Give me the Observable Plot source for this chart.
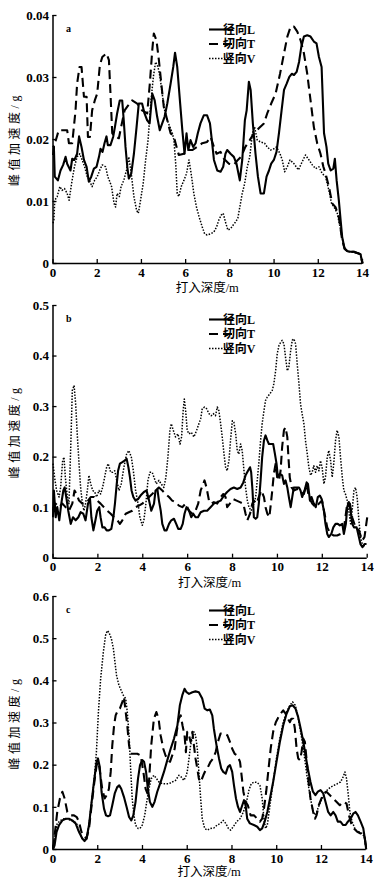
<!DOCTYPE html>
<html><head><meta charset="utf-8">
<script src="https://cdn.jsdelivr.net/npm/d3@7"></script>
<script src="https://cdn.jsdelivr.net/npm/@observablehq/plot@0.6"></script>
<style>
html,body{margin:0;padding:0;background:#fff;}
#wrap{position:relative;width:381px;height:884px;overflow:hidden;background:#fff;}
#wrap svg{position:absolute;left:0;}
#wrap svg text{font-family:"Liberation Serif","Noto Sans CJK SC",serif;}
</style></head><body><div id="wrap"></div>
<script>
// ---- labels / ticks ----
const seriesNames = ["径向L", "切向T", "竖向V"];
const xLabel = "打入深度/m";
const yLabel = "峰值加速度/g";
const panelLetters = ["a", "b", "c"];
const depthTicks = [0, 2, 4, 6, 8, 10, 12, 14];
const yTicksA = [0, 0.01, 0.02, 0.03, 0.04];
const yTicksB = [0, 0.1, 0.2, 0.3, 0.4, 0.5];
const yTicksC = [0, 0.1, 0.2, 0.3, 0.4, 0.5, 0.6];

// ---- panel a: [depth m, peak acceleration g] ----
const aRadial = [[0,0.019],[0.04,0.0188],[0.08,0.014],[0.22,0.0134],[0.34,0.015],[0.46,0.0159],[0.57,0.0172],[0.64,0.0161],[0.79,0.015],[0.87,0.0169],[0.97,0.0167],[1.09,0.0177],[1.18,0.0205],[1.29,0.0188],[1.4,0.0167],[1.52,0.0156],[1.62,0.0132],[1.73,0.014],[1.85,0.0153],[1.97,0.0156],[2.08,0.0172],[2.15,0.0185],[2.24,0.018],[2.33,0.0194],[2.42,0.0205],[2.48,0.0191],[2.6,0.0191],[2.72,0.0204],[2.8,0.022],[2.9,0.0242],[3.02,0.0263],[3.13,0.0263],[3.2,0.0231],[3.28,0.0188],[3.36,0.0156],[3.43,0.0137],[3.54,0.0145],[3.66,0.0177],[3.78,0.022],[3.88,0.0258],[4.03,0.0258],[4.14,0.0242],[4.26,0.0231],[4.37,0.0226],[4.49,0.0274],[4.6,0.0263],[4.71,0.0237],[4.83,0.0215],[4.94,0.0226],[5.05,0.0237],[5.17,0.0258],[5.32,0.029],[5.44,0.0317],[5.52,0.034],[5.62,0.0317],[5.74,0.0263],[5.85,0.0215],[5.95,0.0177],[6.04,0.021],[6.12,0.0183],[6.22,0.0199],[6.34,0.0188],[6.45,0.0194],[6.55,0.021],[6.67,0.0226],[6.82,0.0239],[6.97,0.0239],[7.1,0.0226],[7.2,0.0194],[7.28,0.0167],[7.43,0.015],[7.58,0.0148],[7.7,0.0156],[7.8,0.0177],[7.88,0.0183],[8.03,0.0177],[8.18,0.0172],[8.3,0.0161],[8.45,0.0134],[8.56,0.0167],[8.68,0.0231],[8.76,0.0247],[8.86,0.0293],[8.94,0.028],[9.04,0.0226],[9.16,0.0177],[9.27,0.014],[9.39,0.0113],[9.54,0.0113],[9.66,0.014],[9.77,0.015],[9.87,0.0161],[9.99,0.0167],[10.11,0.018],[10.22,0.021],[10.34,0.0247],[10.45,0.028],[10.57,0.029],[10.69,0.0301],[10.8,0.0306],[10.9,0.0304],[11.02,0.0309],[11.13,0.0325],[11.23,0.0349],[11.35,0.0366],[11.5,0.0368],[11.65,0.0366],[11.8,0.0358],[11.92,0.0355],[12.03,0.0333],[12.15,0.0317],[12.26,0.021],[12.37,0.0188],[12.45,0.0161],[12.56,0.015],[12.68,0.0153],[12.75,0.0169],[12.83,0.0134],[12.93,0.0102],[13.01,0.007],[13.08,0.0043],[13.19,0.0024],[13.31,0.002],[13.46,0.0019],[13.61,0.0019],[13.76,0.0017],[13.91,0.0015],[14,0]];
const aTangential = [[0,0.0175],[0.04,0.0188],[0.26,0.0215],[0.64,0.0215],[0.72,0.0194],[0.87,0.0194],[1.02,0.0247],[1.09,0.029],[1.2,0.0317],[1.29,0.0317],[1.4,0.0269],[1.52,0.0269],[1.58,0.0204],[1.67,0.0204],[1.77,0.0247],[1.89,0.0263],[2.0,0.0274],[2.12,0.032],[2.23,0.0333],[2.42,0.0339],[2.53,0.0328],[2.6,0.0274],[2.68,0.021],[2.83,0.0204],[2.98,0.0202],[3.08,0.022],[3.24,0.0247],[3.36,0.0253],[3.58,0.0263],[3.81,0.0258],[4.03,0.0247],[4.26,0.0242],[4.38,0.029],[4.49,0.0344],[4.56,0.0371],[4.68,0.036],[4.79,0.0328],[4.9,0.029],[5.01,0.0253],[5.17,0.0231],[5.32,0.021],[5.47,0.0204],[5.59,0.0188],[5.69,0.0175],[5.92,0.0177],[6.07,0.0183],[6.3,0.0183],[6.52,0.0188],[6.75,0.0194],[6.97,0.0196],[7.13,0.0204],[7.28,0.0188],[7.4,0.0177],[7.58,0.018],[7.73,0.0169],[7.96,0.0161],[8.18,0.0159],[8.36,0.0167],[8.51,0.0172],[8.7,0.0188],[8.9,0.0199],[9.09,0.021],[9.31,0.0218],[9.54,0.0226],[9.69,0.0242],[9.87,0.0258],[10.07,0.0274],[10.27,0.0306],[10.45,0.0339],[10.6,0.0366],[10.75,0.0382],[10.9,0.0382],[11.05,0.0374],[11.2,0.036],[11.35,0.0339],[11.5,0.0306],[11.65,0.0263],[11.8,0.022],[11.95,0.0194],[12.1,0.0177],[12.23,0.0156],[12.33,0.0145],[12.48,0.0124],[12.63,0.0097],[12.78,0.0091],[12.93,0.0075],[13.08,0.0038],[13.19,0.0024],[13.31,0.002],[13.46,0.0019],[13.61,0.0019],[13.76,0.0017],[13.91,0.0015],[14,0]];
const aVertical = [[0,0.0065],[0.04,0.007],[0.08,0.0102],[0.19,0.0108],[0.31,0.0124],[0.41,0.0118],[0.52,0.0121],[0.64,0.0113],[0.73,0.0102],[0.84,0.0129],[0.97,0.0156],[1.09,0.0172],[1.21,0.0177],[1.32,0.0167],[1.43,0.0156],[1.55,0.014],[1.67,0.0132],[1.77,0.0124],[1.88,0.0134],[2.0,0.014],[2.12,0.0151],[2.23,0.0159],[2.38,0.0156],[2.48,0.014],[2.57,0.0132],[2.65,0.0124],[2.76,0.0097],[2.83,0.0091],[2.9,0.0113],[3.0,0.0108],[3.08,0.0124],[3.2,0.0134],[3.33,0.0151],[3.43,0.0172],[3.54,0.0145],[3.66,0.0108],[3.78,0.0086],[3.86,0.0081],[3.96,0.0102],[4.08,0.0129],[4.19,0.0167],[4.3,0.0199],[4.42,0.0258],[4.54,0.0301],[4.64,0.0325],[4.75,0.0317],[4.84,0.0301],[4.94,0.0274],[5.05,0.0247],[5.17,0.0231],[5.29,0.022],[5.4,0.021],[5.47,0.0199],[5.55,0.0161],[5.62,0.0113],[5.69,0.0108],[5.8,0.0124],[5.92,0.0134],[6.04,0.0145],[6.15,0.0167],[6.25,0.0145],[6.37,0.0113],[6.49,0.0091],[6.61,0.0075],[6.75,0.0059],[6.86,0.0048],[6.97,0.0046],[7.13,0.0048],[7.28,0.0051],[7.4,0.0059],[7.5,0.007],[7.61,0.0078],[7.7,0.0081],[7.8,0.0067],[7.91,0.0054],[8.03,0.0056],[8.15,0.0062],[8.26,0.0067],[8.36,0.0073],[8.45,0.0091],[8.56,0.0113],[8.67,0.0129],[8.79,0.0156],[8.9,0.0172],[9.02,0.021],[9.12,0.022],[9.24,0.0199],[9.39,0.0196],[9.57,0.0194],[9.69,0.0188],[9.84,0.0183],[9.99,0.0185],[10.11,0.0188],[10.27,0.0177],[10.37,0.0167],[10.48,0.0148],[10.6,0.0156],[10.72,0.0167],[10.9,0.0161],[11.1,0.0151],[11.27,0.0164],[11.42,0.0175],[11.58,0.0167],[11.73,0.0159],[11.88,0.0153],[12.03,0.0156],[12.18,0.0145],[12.33,0.014],[12.48,0.0118],[12.6,0.0097],[12.71,0.0091],[12.86,0.0081],[13.01,0.0054],[13.16,0.0027],[13.31,0.0019],[13.46,0.0019],[13.61,0.0018],[13.76,0.0017],[13.91,0.0015],[14,0]];

// ---- panel b ----
const bRadial = [[0,0.081],[0.04,0.134],[0.12,0.081],[0.19,0.101],[0.28,0.075],[0.37,0.108],[0.46,0.134],[0.52,0.14],[0.59,0.121],[0.68,0.094],[0.79,0.068],[0.89,0.081],[1.01,0.075],[1.13,0.081],[1.23,0.091],[1.35,0.088],[1.45,0.075],[1.56,0.108],[1.65,0.117],[1.71,0.081],[1.8,0.055],[1.89,0.075],[1.97,0.094],[2.06,0.101],[2.12,0.081],[2.2,0.061],[2.3,0.061],[2.39,0.055],[2.49,0.055],[2.6,0.058],[2.69,0.081],[2.76,0.108],[2.84,0.147],[2.9,0.173],[2.98,0.187],[3.09,0.19],[3.19,0.193],[3.28,0.197],[3.36,0.18],[3.43,0.16],[3.5,0.134],[3.58,0.121],[3.68,0.114],[3.79,0.117],[3.9,0.124],[4.05,0.131],[4.17,0.134],[4.28,0.114],[4.38,0.094],[4.5,0.108],[4.57,0.134],[4.65,0.137],[4.72,0.114],[4.8,0.094],[4.87,0.068],[4.97,0.055],[5.06,0.055],[5.17,0.068],[5.27,0.075],[5.39,0.078],[5.49,0.068],[5.58,0.058],[5.69,0.058],[5.78,0.068],[5.86,0.088],[5.95,0.101],[6.06,0.094],[6.16,0.081],[6.25,0.088],[6.35,0.081],[6.46,0.081],[6.58,0.091],[6.73,0.094],[6.87,0.094],[7.02,0.101],[7.17,0.108],[7.32,0.111],[7.47,0.114],[7.62,0.124],[7.76,0.131],[7.91,0.137],[8.06,0.14],[8.21,0.137],[8.36,0.14],[8.48,0.15],[8.58,0.164],[8.69,0.173],[8.78,0.18],[8.83,0.17],[8.89,0.134],[8.95,0.081],[9.03,0.078],[9.1,0.081],[9.17,0.108],[9.25,0.154],[9.32,0.2],[9.4,0.233],[9.47,0.243],[9.55,0.233],[9.62,0.226],[9.72,0.226],[9.81,0.226],[9.89,0.206],[9.96,0.187],[10.02,0.16],[10.11,0.167],[10.21,0.164],[10.29,0.147],[10.36,0.154],[10.44,0.14],[10.51,0.121],[10.59,0.101],[10.66,0.121],[10.73,0.14],[10.85,0.14],[10.96,0.14],[11.03,0.134],[11.1,0.121],[11.21,0.134],[11.3,0.15],[11.36,0.147],[11.45,0.114],[11.52,0.121],[11.62,0.108],[11.71,0.101],[11.8,0.121],[11.89,0.124],[11.97,0.117],[12.07,0.094],[12.14,0.068],[12.22,0.048],[12.29,0.042],[12.4,0.048],[12.49,0.061],[12.59,0.068],[12.69,0.068],[12.78,0.065],[12.89,0.068],[12.96,0.048],[13.05,0.068],[13.11,0.101],[13.18,0.111],[13.26,0.094],[13.33,0.068],[13.41,0.061],[13.53,0.061],[13.63,0.042],[13.7,0.028],[13.79,0.022],[13.88,0.028],[13.97,0.028]];
const bTangential = [[0,0.094],[0.12,0.108],[0.27,0.101],[0.42,0.108],[0.56,0.101],[0.71,0.094],[0.86,0.108],[0.96,0.134],[1.05,0.127],[1.16,0.114],[1.31,0.108],[1.45,0.108],[1.56,0.114],[1.68,0.121],[1.83,0.121],[1.97,0.114],[2.12,0.108],[2.27,0.101],[2.42,0.094],[2.57,0.088],[2.72,0.081],[2.87,0.075],[2.98,0.068],[3.09,0.075],[3.24,0.088],[3.38,0.091],[3.53,0.094],[3.68,0.101],[3.83,0.104],[3.98,0.108],[4.13,0.114],[4.28,0.121],[4.42,0.127],[4.57,0.134],[4.72,0.14],[4.87,0.134],[5.02,0.127],[5.17,0.121],[5.31,0.114],[5.46,0.111],[5.61,0.104],[5.76,0.101],[5.91,0.108],[6.06,0.094],[6.21,0.088],[6.35,0.094],[6.47,0.108],[6.58,0.134],[6.67,0.144],[6.75,0.154],[6.84,0.14],[6.95,0.114],[7.05,0.108],[7.17,0.111],[7.32,0.108],[7.47,0.121],[7.59,0.127],[7.69,0.121],[7.76,0.101],[7.88,0.108],[8.03,0.117],[8.18,0.114],[8.33,0.111],[8.48,0.108],[8.58,0.088],[8.66,0.075],[8.78,0.088],[8.88,0.108],[8.95,0.114],[9.07,0.108],[9.17,0.121],[9.28,0.134],[9.4,0.121],[9.47,0.101],[9.55,0.088],[9.64,0.081],[9.69,0.101],[9.77,0.134],[9.84,0.167],[9.92,0.187],[9.99,0.16],[10.07,0.154],[10.14,0.173],[10.21,0.22],[10.29,0.253],[10.36,0.259],[10.44,0.24],[10.49,0.2],[10.55,0.16],[10.63,0.14],[10.73,0.134],[10.88,0.137],[11.03,0.134],[11.18,0.127],[11.3,0.147],[11.4,0.121],[11.55,0.108],[11.7,0.101],[11.85,0.108],[11.99,0.114],[12.1,0.088],[12.22,0.061],[12.37,0.048],[12.51,0.045],[12.66,0.045],[12.81,0.048],[12.96,0.058],[13.11,0.108],[13.23,0.108],[13.33,0.081],[13.48,0.061],[13.63,0.055],[13.78,0.035],[13.88,0.042],[14,0.081]];
const bVertical = [[0,0.187],[0.07,0.16],[0.16,0.134],[0.27,0.121],[0.34,0.14],[0.43,0.193],[0.49,0.2],[0.55,0.16],[0.64,0.121],[0.71,0.108],[0.79,0.22],[0.86,0.332],[0.94,0.342],[1.01,0.305],[1.08,0.246],[1.16,0.187],[1.23,0.14],[1.31,0.108],[1.38,0.094],[1.45,0.108],[1.53,0.134],[1.6,0.164],[1.68,0.147],[1.77,0.134],[1.86,0.131],[1.94,0.121],[2.05,0.134],[2.12,0.127],[2.21,0.14],[2.3,0.16],[2.39,0.18],[2.46,0.187],[2.57,0.17],[2.66,0.17],[2.75,0.173],[2.84,0.154],[2.94,0.134],[3.04,0.147],[3.16,0.18],[3.28,0.206],[3.38,0.213],[3.49,0.2],[3.58,0.173],[3.68,0.134],[3.79,0.108],[3.87,0.081],[3.98,0.065],[4.05,0.075],[4.14,0.108],[4.23,0.154],[4.32,0.17],[4.42,0.17],[4.5,0.16],[4.6,0.147],[4.72,0.154],[4.82,0.147],[4.94,0.14],[5.03,0.16],[5.12,0.2],[5.21,0.253],[5.27,0.266],[5.36,0.253],[5.46,0.24],[5.57,0.246],[5.66,0.226],[5.73,0.24],[5.8,0.292],[5.85,0.315],[5.91,0.292],[5.98,0.253],[6.06,0.246],[6.16,0.249],[6.28,0.24],[6.4,0.253],[6.5,0.266],[6.58,0.276],[6.65,0.296],[6.75,0.299],[6.84,0.296],[6.95,0.286],[7.05,0.282],[7.14,0.286],[7.24,0.282],[7.32,0.299],[7.39,0.292],[7.47,0.266],[7.54,0.24],[7.62,0.206],[7.69,0.18],[7.76,0.173],[7.84,0.193],[7.91,0.233],[7.99,0.272],[8.06,0.269],[8.14,0.246],[8.21,0.213],[8.28,0.206],[8.36,0.226],[8.43,0.213],[8.51,0.173],[8.58,0.14],[8.66,0.114],[8.73,0.101],[8.83,0.094],[8.95,0.108],[9.03,0.121],[9.1,0.154],[9.17,0.187],[9.25,0.233],[9.32,0.266],[9.4,0.292],[9.47,0.312],[9.55,0.319],[9.66,0.325],[9.77,0.332],[9.84,0.345],[9.92,0.371],[9.99,0.404],[10.07,0.421],[10.14,0.427],[10.21,0.431],[10.29,0.424],[10.36,0.398],[10.44,0.371],[10.51,0.378],[10.59,0.411],[10.66,0.431],[10.73,0.434],[10.81,0.424],[10.88,0.385],[10.96,0.345],[11.03,0.305],[11.1,0.286],[11.18,0.266],[11.25,0.233],[11.33,0.206],[11.4,0.18],[11.48,0.164],[11.55,0.17],[11.62,0.183],[11.7,0.17],[11.77,0.183],[11.85,0.173],[11.92,0.193],[11.99,0.18],[12.07,0.147],[12.14,0.16],[12.22,0.2],[12.29,0.213],[12.37,0.193],[12.44,0.16],[12.51,0.187],[12.59,0.233],[12.66,0.253],[12.74,0.24],[12.81,0.2],[12.89,0.16],[12.96,0.134],[13.03,0.127],[13.11,0.114],[13.18,0.094],[13.26,0.068],[13.33,0.094],[13.41,0.134],[13.48,0.14],[13.55,0.121],[13.63,0.075],[13.7,0.042],[13.82,0.022],[13.9,0.028]];

// ---- panel c ----
const cRadial = [[0,0],[0.07,0.01],[0.16,0.042],[0.27,0.058],[0.42,0.069],[0.57,0.073],[0.71,0.073],[0.86,0.069],[1.01,0.062],[1.16,0.042],[1.31,0.026],[1.41,0.02],[1.5,0.026],[1.61,0.058],[1.71,0.105],[1.83,0.16],[1.95,0.208],[2.01,0.216],[2.09,0.196],[2.17,0.137],[2.28,0.097],[2.37,0.081],[2.46,0.079],[2.55,0.081],[2.65,0.105],[2.76,0.133],[2.87,0.148],[2.96,0.152],[3.05,0.144],[3.17,0.125],[3.29,0.101],[3.4,0.077],[3.5,0.069],[3.59,0.081],[3.69,0.113],[3.8,0.168],[3.89,0.2],[3.99,0.212],[4.07,0.208],[4.16,0.184],[4.24,0.144],[4.33,0.113],[4.44,0.101],[4.54,0.113],[4.66,0.137],[4.81,0.16],[4.96,0.184],[5.11,0.212],[5.26,0.239],[5.41,0.263],[5.56,0.294],[5.67,0.342],[5.78,0.366],[5.88,0.381],[5.97,0.373],[6.08,0.369],[6.23,0.373],[6.37,0.375],[6.52,0.373],[6.67,0.358],[6.78,0.334],[6.9,0.33],[7.01,0.332],[7.12,0.318],[7.19,0.287],[7.31,0.247],[7.42,0.216],[7.52,0.192],[7.61,0.184],[7.72,0.18],[7.82,0.196],[7.91,0.2],[8.01,0.184],[8.09,0.152],[8.18,0.121],[8.27,0.101],[8.36,0.089],[8.46,0.105],[8.54,0.117],[8.61,0.105],[8.68,0.073],[8.8,0.062],[8.98,0.058],[9.13,0.054],[9.25,0.046],[9.35,0.05],[9.46,0.066],[9.58,0.089],[9.7,0.121],[9.84,0.16],[9.99,0.208],[10.14,0.255],[10.29,0.294],[10.44,0.322],[10.59,0.34],[10.71,0.342],[10.84,0.334],[10.96,0.314],[11.07,0.287],[11.19,0.255],[11.29,0.223],[11.39,0.192],[11.51,0.16],[11.62,0.137],[11.73,0.129],[11.84,0.137],[11.96,0.141],[12.08,0.133],[12.18,0.113],[12.3,0.089],[12.41,0.081],[12.53,0.089],[12.63,0.081],[12.73,0.066],[12.85,0.066],[12.97,0.058],[13.08,0.058],[13.18,0.066],[13.3,0.073],[13.42,0.085],[13.52,0.089],[13.63,0.081],[13.75,0.066],[13.87,0.05],[13.94,0.026],[14,0]];
const cTangential = [[0,0.002],[0.09,0.042],[0.19,0.089],[0.31,0.121],[0.42,0.137],[0.52,0.121],[0.64,0.089],[0.79,0.081],[0.94,0.081],[1.06,0.077],[1.16,0.066],[1.27,0.042],[1.39,0.03],[1.5,0.026],[1.61,0.05],[1.71,0.097],[1.83,0.152],[1.95,0.2],[2.03,0.208],[2.1,0.184],[2.2,0.144],[2.31,0.121],[2.4,0.129],[2.5,0.144],[2.58,0.184],[2.65,0.247],[2.73,0.294],[2.8,0.318],[2.9,0.33],[2.99,0.334],[3.1,0.35],[3.17,0.362],[3.25,0.326],[3.32,0.294],[3.4,0.247],[3.47,0.227],[3.62,0.227],[3.77,0.227],[3.92,0.223],[4.04,0.184],[4.14,0.144],[4.22,0.133],[4.29,0.16],[4.39,0.247],[4.51,0.31],[4.62,0.326],[4.72,0.31],[4.81,0.271],[4.93,0.239],[5.03,0.223],[5.14,0.212],[5.23,0.208],[5.33,0.223],[5.44,0.239],[5.53,0.279],[5.62,0.31],[5.71,0.318],[5.79,0.294],[5.88,0.271],[5.94,0.231],[6.0,0.279],[6.08,0.271],[6.15,0.255],[6.23,0.279],[6.3,0.247],[6.37,0.216],[6.45,0.192],[6.52,0.168],[6.6,0.16],[6.72,0.176],[6.82,0.188],[6.93,0.196],[7.04,0.208],[7.16,0.216],[7.27,0.231],[7.37,0.255],[7.49,0.275],[7.64,0.275],[7.79,0.271],[7.91,0.255],[8.01,0.239],[8.12,0.227],[8.24,0.223],[8.36,0.208],[8.43,0.176],[8.51,0.137],[8.61,0.113],[8.71,0.105],[8.83,0.081],[8.98,0.081],[9.13,0.073],[9.25,0.066],[9.35,0.073],[9.43,0.097],[9.53,0.137],[9.62,0.184],[9.73,0.239],[9.84,0.279],[9.96,0.302],[10.08,0.314],[10.17,0.322],[10.29,0.33],[10.4,0.322],[10.5,0.31],[10.59,0.302],[10.65,0.31],[10.74,0.31],[10.81,0.287],[10.89,0.239],[10.96,0.216],[11.04,0.212],[11.11,0.231],[11.19,0.263],[11.26,0.255],[11.33,0.216],[11.41,0.168],[11.51,0.121],[11.63,0.089],[11.71,0.073],[11.78,0.081],[11.88,0.105],[12.0,0.121],[12.1,0.133],[12.22,0.137],[12.37,0.129],[12.52,0.121],[12.67,0.113],[12.82,0.105],[12.97,0.113],[13.12,0.109],[13.23,0.081],[13.33,0.062],[13.45,0.05],[13.6,0.042],[13.75,0.038],[13.87,0.038],[13.94,0.026],[14,0.002]];
const cVertical = [[0,0.002],[0.09,0.038],[0.19,0.062],[0.34,0.069],[0.49,0.073],[0.64,0.073],[0.79,0.069],[0.94,0.066],[1.06,0.062],[1.16,0.042],[1.31,0.026],[1.41,0.022],[1.5,0.028],[1.61,0.058],[1.71,0.105],[1.83,0.16],[1.94,0.231],[2.03,0.326],[2.13,0.405],[2.25,0.468],[2.35,0.508],[2.43,0.519],[2.5,0.515],[2.61,0.5],[2.7,0.476],[2.77,0.444],[2.84,0.413],[2.95,0.389],[3.05,0.377],[3.14,0.366],[3.25,0.358],[3.32,0.326],[3.4,0.271],[3.47,0.192],[3.54,0.121],[3.62,0.081],[3.69,0.058],[3.8,0.05],[3.89,0.05],[3.99,0.058],[4.1,0.081],[4.19,0.113],[4.29,0.144],[4.39,0.168],[4.51,0.176],[4.63,0.168],[4.74,0.16],[4.89,0.156],[5.03,0.156],[5.18,0.156],[5.33,0.16],[5.48,0.164],[5.63,0.176],[5.73,0.172],[5.85,0.164],[5.93,0.172],[6.0,0.184],[6.08,0.216],[6.15,0.247],[6.23,0.267],[6.3,0.279],[6.37,0.271],[6.45,0.239],[6.52,0.184],[6.6,0.121],[6.67,0.073],[6.78,0.05],[6.9,0.046],[7.04,0.05],[7.19,0.051],[7.34,0.058],[7.49,0.062],[7.61,0.069],[7.72,0.062],[7.84,0.05],[7.94,0.046],[8.06,0.054],[8.21,0.066],[8.36,0.073],[8.51,0.089],[8.65,0.113],[8.76,0.141],[8.86,0.156],[8.98,0.16],[9.13,0.159],[9.25,0.152],[9.35,0.121],[9.43,0.073],[9.5,0.05],[9.58,0.058],[9.7,0.105],[9.84,0.16],[9.99,0.216],[10.14,0.263],[10.29,0.302],[10.44,0.326],[10.59,0.342],[10.71,0.35],[10.83,0.342],[10.95,0.314],[11.07,0.279],[11.19,0.239],[11.29,0.2],[11.39,0.16],[11.51,0.121],[11.63,0.089],[11.74,0.081],[11.84,0.097],[11.96,0.113],[12.1,0.129],[12.26,0.141],[12.41,0.148],[12.56,0.152],[12.71,0.156],[12.85,0.16],[12.97,0.172],[13.05,0.184],[13.12,0.168],[13.2,0.129],[13.27,0.089],[13.37,0.066],[13.52,0.046],[13.67,0.042],[13.82,0.038],[13.92,0.03],[14,0.002]];

// ---- styles ----
const lineStyles = [
  {stroke: "#000", strokeWidth: 2.1},
  {stroke: "#000", strokeWidth: 2.1, strokeDasharray: "9,5"},
  {stroke: "#000", strokeWidth: 1.5, strokeDasharray: "1.5,1.5"}
];
const fmt = d => d === 0 ? "0" : String(d);
const FONT = '"Liberation Serif","Noto Sans CJK SC",serif';

function makePanel({series, yDomain, yTicks, letter, top, height, mTop, mBottom, mRight, xLabelY}) {
  const lines = series.map((s, i) => Plot.line(s, {x: d => d[0], y: d => d[1], strokeLinejoin: "round", strokeLinecap: "butt", ...lineStyles[i]}));
  const svg = Plot.plot({
    width: 381, height,
    marginTop: mTop, marginBottom: mBottom, marginLeft: 52.5, marginRight: mRight,
    style: {fontFamily: FONT, fontSize: "13px", color: "#000", background: "transparent", overflow: "visible"},
    x: {domain: [0, 14]},
    y: {domain: yDomain},
    marks: [
      Plot.axisX(depthTicks, {tickSize: 0, tickPadding: 4, tickFormat: d => String(d), label: null, fontSize: 13, fontWeight: "bold"}),
      Plot.axisX(depthTicks, {text: null, tickSize: 4, dy: -4, strokeWidth: 1.3, label: null}),
      Plot.axisY(yTicks, {tickSize: 0, tickPadding: 4, tickFormat: fmt, label: null, fontSize: 13, fontWeight: "bold"}),
      Plot.axisY(yTicks, {text: null, tickSize: 4, dx: 4, strokeWidth: 1.3, label: null}),
      Plot.ruleX([0], {strokeWidth: 1.5}),
      Plot.ruleY([0], {strokeWidth: 1.5}),
      Plot.text([letter], {text: d => d, frameAnchor: "top-left", dx: 13, dy: 9, fontWeight: "bold", fontSize: 10}),
      ...lines
    ]
  });
  svg.style.top = top + "px";
  const sel = d3.select(svg);
  const plotBottom = height - mBottom;
  const plotMidX = (52.5 + 381 - mRight) / 2;
  const plotMidY = (mTop + plotBottom) / 2;
  // axis titles
  sel.append("text").attr("x", plotMidX).attr("y", xLabelY).attr("dy", "0.35em")
    .attr("text-anchor", "middle").attr("font-size", 12.5).attr("fill", "#000").text(xLabel);
  sel.append("text").attr("transform", `translate(15,${plotMidY}) rotate(-90)`).attr("dy", "0.35em")
    .attr("text-anchor", "middle").attr("font-size", 12).attr("letter-spacing", "3.5px").attr("fill", "#000").text(yLabel);
  // legend
  const g = sel.append("g").attr("class", "legend");
  seriesNames.forEach((name, i) => {
    const y = mTop + 14.5 + i * 14.5;
    const st = lineStyles[i];
    g.append("line").attr("x1", 209).attr("x2", 233).attr("y1", y).attr("y2", y)
      .attr("stroke", st.stroke).attr("stroke-width", st.strokeWidth)
      .attr("stroke-dasharray", st.strokeDasharray || null);
    g.append("text").attr("x", 239).attr("y", y).attr("dy", "0.35em")
      .attr("font-size", 12).attr("font-weight", "bold").attr("fill", "#000").text(name);
  });
  document.getElementById("wrap").appendChild(svg);
}

makePanel({series: [aRadial, aTangential, aVertical], yDomain: [0, 0.04], yTicks: yTicksA, letter: panelLetters[0], top: 0, height: 297, mTop: 15, mBottom: 34, mRight: 19, xLabelY: 288});
makePanel({series: [bRadial, bTangential, bVertical], yDomain: [0, 0.5], yTicks: yTicksB, letter: panelLetters[1], top: 290, height: 300, mTop: 15, mBottom: 32.3, mRight: 14.3, xLabelY: 293});
makePanel({series: [cRadial, cTangential, cVertical], yDomain: [0, 0.6], yTicks: yTicksC, letter: panelLetters[2], top: 585, height: 299, mTop: 11, mBottom: 35, mRight: 15.3, xLabelY: 287});
</script></body></html>
